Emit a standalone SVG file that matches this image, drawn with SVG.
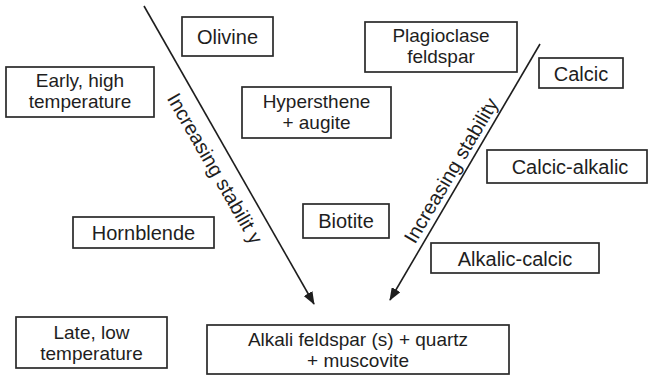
<svg xmlns="http://www.w3.org/2000/svg" width="649" height="377" viewBox="0 0 649 377">
  <style>
    .box { fill: #ffffff; stroke: #2a2a2a; stroke-width: 1.7; }
    .lbl { font-family: "Liberation Sans", Arial, sans-serif; font-size: 20px; fill: #1e1e1e; text-anchor: middle; }
    .two { font-size: 19px; }
    .conn { stroke: #1e1e1e; stroke-width: 1.6; fill: none; }
  </style>
  <defs>
    <marker id="arrow" viewBox="0 0 13 10" refX="12" refY="5" markerWidth="13" markerHeight="10" markerUnits="userSpaceOnUse" orient="auto">
      <path d="M0,0 L13,5 L0,10 Z" fill="#1e1e1e"/>
    </marker>
  </defs>
  <rect width="649" height="377" fill="#ffffff"/>

  <g id="connectors">
    <line class="conn" x1="144" y1="6" x2="314" y2="304" marker-end="url(#arrow)"/>
    <line class="conn" x1="540" y1="44" x2="390" y2="300" marker-end="url(#arrow)"/>
    <text class="lbl" transform="translate(209,172) rotate(60)">Increasing stabilit y</text>
    <text class="lbl" transform="translate(457,174) rotate(-59.4)">Increasing stability</text>
  </g>

  <g id="olivine">
    <rect class="box" x="182" y="17" width="91" height="39"/>
    <text class="lbl" x="227.5" y="43.5">Olivine</text>
  </g>

  <g id="early-high-temperature">
    <rect class="box" x="6" y="67" width="148" height="50"/>
    <text class="lbl two" x="80" y="86.9">Early, high</text>
    <text class="lbl two" x="80" y="108.2">temperature</text>
  </g>

  <g id="hypersthene-augite">
    <rect class="box" x="242" y="87" width="149" height="51"/>
    <text class="lbl two" x="316.5" y="107.9">Hypersthene</text>
    <text class="lbl two" x="316.5" y="129.2">+ augite</text>
  </g>

  <g id="plagioclase">
    <rect class="box" x="365" y="22" width="152" height="50"/>
    <text class="lbl two" x="441" y="41.9">Plagioclase</text>
    <text class="lbl two" x="441" y="63.2">feldspar</text>
  </g>

  <g id="calcic">
    <rect class="box" x="539" y="58" width="84" height="30"/>
    <text class="lbl" x="581" y="81">Calcic</text>
  </g>

  <g id="calcic-alkalic">
    <rect class="box" x="487" y="150" width="160" height="33"/>
    <text class="lbl" x="570" y="174">Calcic-alkalic</text>
  </g>

  <g id="hornblende">
    <rect class="box" x="73" y="217" width="141" height="31"/>
    <text class="lbl" x="143.5" y="240">Hornblende</text>
  </g>

  <g id="biotite">
    <rect class="box" x="303" y="204" width="86" height="34"/>
    <text class="lbl" x="346" y="228">Biotite</text>
  </g>

  <g id="alkalic-calcic">
    <rect class="box" x="431" y="243" width="168" height="30"/>
    <text class="lbl" x="515" y="266">Alkalic-calcic</text>
  </g>

  <g id="late-low-temperature">
    <rect class="box" x="16" y="317" width="151" height="51"/>
    <text class="lbl two" x="91.5" y="338.9">Late, low</text>
    <text class="lbl two" x="91.5" y="360.2">temperature</text>
  </g>

  <g id="alkali-feldspar">
    <rect class="box" x="207" y="325" width="302" height="49"/>
    <text class="lbl two" x="358" y="345.9">Alkali feldspar (s) + quartz</text>
    <text class="lbl two" x="358" y="367.2">+ muscovite</text>
  </g>
</svg>
